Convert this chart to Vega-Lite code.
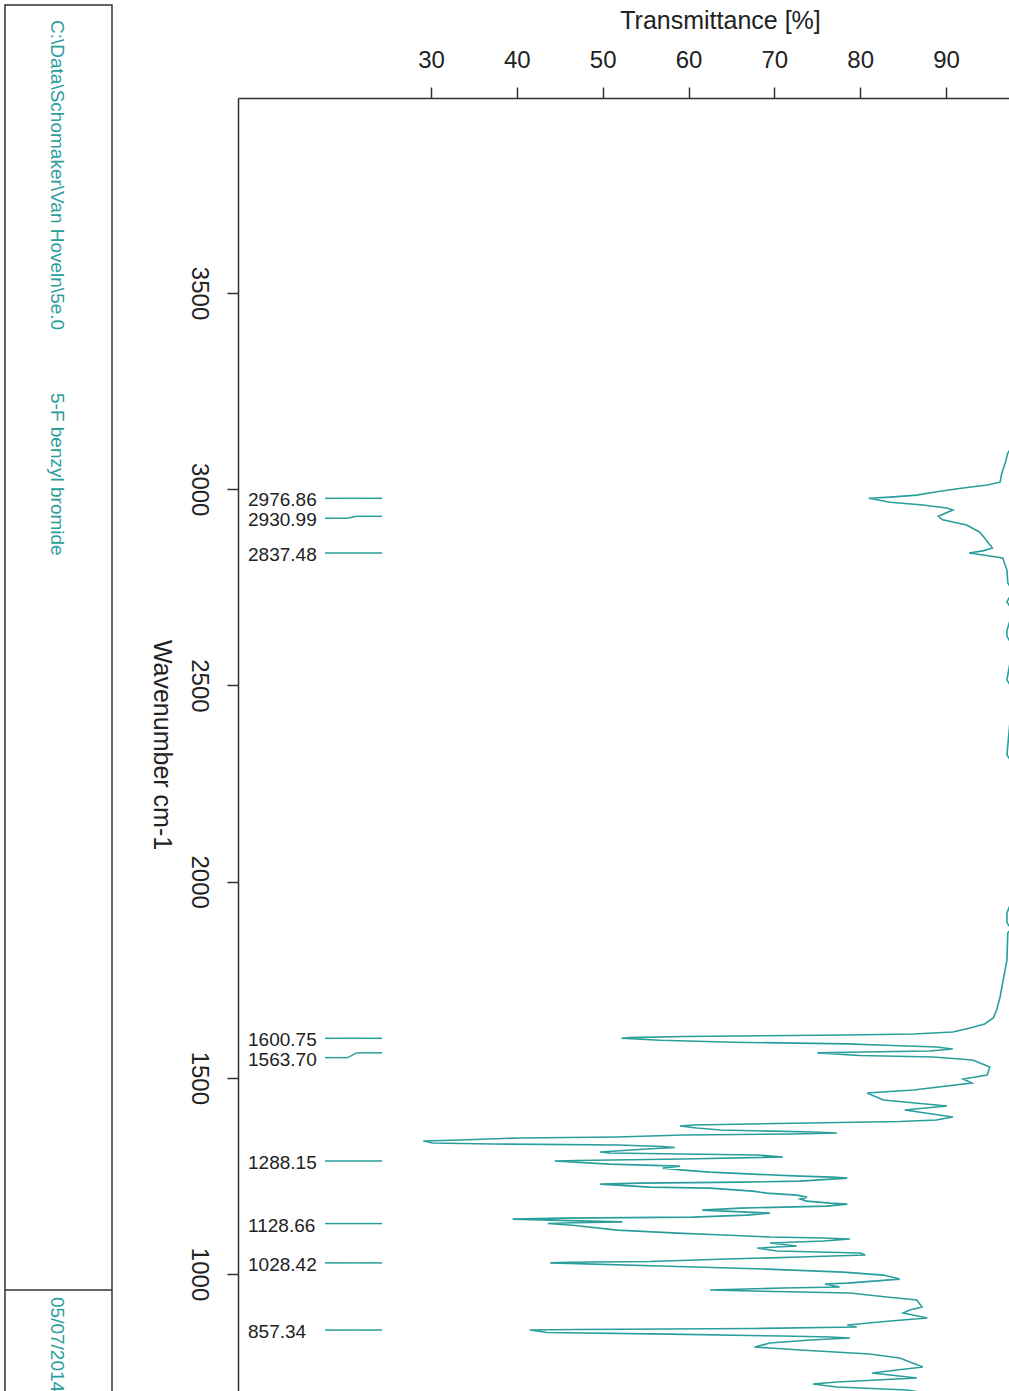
{
  "$schema": "https://vega.github.io/schema/vega-lite/v6.json",
  "width": 771,
  "height": 1293,
  "autosize": {"type": "none"},
  "padding": {"left": 238, "top": 98, "right": 0, "bottom": 0},
  "background": "white",
  "config": {"view": {"stroke": null}, "font": "Liberation Sans", "axis": {"grid": false}},
  "datasets": {
    "spectrum": [
      {"wn": 3997, "T": 99.0}, {"wn": 3800, "T": 99.2}, {"wn": 3500, "T": 99.3}, {"wn": 3300, "T": 99.0}, {"wn": 3180, "T": 98.6}, {"wn": 3120, "T": 98.0},
      {"wn": 3092, "T": 97.2}, {"wn": 3067, "T": 96.9}, {"wn": 3041, "T": 96.5}, {"wn": 3018, "T": 96.3}, {"wn": 3011, "T": 94.8}, {"wn": 3003, "T": 92.0},
      {"wn": 2995, "T": 89.3}, {"wn": 2985, "T": 86.6}, {"wn": 2980, "T": 83.5}, {"wn": 2976.86, "T": 81.0}, {"wn": 2967, "T": 83.5}, {"wn": 2960, "T": 87.3},
      {"wn": 2952, "T": 90.1}, {"wn": 2947, "T": 90.8}, {"wn": 2931, "T": 89.1}, {"wn": 2922, "T": 89.6}, {"wn": 2909, "T": 92.4}, {"wn": 2891, "T": 93.9},
      {"wn": 2876, "T": 94.5}, {"wn": 2850, "T": 95.4}, {"wn": 2843, "T": 94.3}, {"wn": 2837.48, "T": 92.7}, {"wn": 2830, "T": 95.1}, {"wn": 2825, "T": 96.6},
      {"wn": 2794, "T": 97.1}, {"wn": 2761, "T": 97.2}, {"wn": 2740, "T": 97.8}, {"wn": 2713, "T": 97.1}, {"wn": 2690, "T": 97.8}, {"wn": 2640, "T": 97.1},
      {"wn": 2625, "T": 97.1}, {"wn": 2600, "T": 97.8}, {"wn": 2514, "T": 97.1}, {"wn": 2490, "T": 97.8}, {"wn": 2323, "T": 97.1}, {"wn": 2300, "T": 97.8},
      {"wn": 1960, "T": 97.8}, {"wn": 1920, "T": 97.1}, {"wn": 1895, "T": 97.1}, {"wn": 1880, "T": 97.6}, {"wn": 1869, "T": 97.2}, {"wn": 1800, "T": 97.1},
      {"wn": 1742, "T": 96.6}, {"wn": 1706, "T": 96.3}, {"wn": 1673, "T": 95.9}, {"wn": 1652.5, "T": 95.5}, {"wn": 1637.2, "T": 94.5}, {"wn": 1627.0, "T": 92.8},
      {"wn": 1616.8, "T": 90.8}, {"wn": 1611.7, "T": 86.2}, {"wn": 1609.2, "T": 78.5}, {"wn": 1605.3, "T": 59.4}, {"wn": 1602.5, "T": 53.2}, {"wn": 1600.75, "T": 52.2},
      {"wn": 1595.8, "T": 56.7}, {"wn": 1590.7, "T": 65.2}, {"wn": 1586.6, "T": 78.5}, {"wn": 1582.4, "T": 83.8}, {"wn": 1578.6, "T": 88.9}, {"wn": 1573.6, "T": 90.8},
      {"wn": 1568.5, "T": 88.1}, {"wn": 1565.9, "T": 80.3}, {"wn": 1563.7, "T": 75.0}, {"wn": 1557.0, "T": 80.0}, {"wn": 1553.1, "T": 88.5}, {"wn": 1545.5, "T": 93.1},
      {"wn": 1527.6, "T": 95.1}, {"wn": 1507.2, "T": 94.8}, {"wn": 1497.0, "T": 92.0}, {"wn": 1486.8, "T": 93.0}, {"wn": 1469.0, "T": 86.2}, {"wn": 1461.4, "T": 80.8},
      {"wn": 1443.5, "T": 82.7}, {"wn": 1428.2, "T": 90.1}, {"wn": 1418.1, "T": 85.2}, {"wn": 1400.2, "T": 90.8}, {"wn": 1392.6, "T": 88.9}, {"wn": 1388.7, "T": 84.6},
      {"wn": 1386.1, "T": 77.6}, {"wn": 1383.6, "T": 70.3}, {"wn": 1379.9, "T": 60.5}, {"wn": 1377.3, "T": 59.0}, {"wn": 1372.2, "T": 61.0}, {"wn": 1367.1, "T": 63.7},
      {"wn": 1362.1, "T": 74.5}, {"wn": 1359.5, "T": 77.3}, {"wn": 1357.0, "T": 72.2}, {"wn": 1354.4, "T": 59.4}, {"wn": 1349.3, "T": 51.7}, {"wn": 1346.8, "T": 40.4},
      {"wn": 1341.6, "T": 33.4}, {"wn": 1339.1, "T": 29.1}, {"wn": 1334.0, "T": 30.2}, {"wn": 1331.4, "T": 37.2}, {"wn": 1328.9, "T": 51.8}, {"wn": 1325.1, "T": 57.0},
      {"wn": 1322.5, "T": 58.4}, {"wn": 1318.8, "T": 55.2}, {"wn": 1311.1, "T": 49.7}, {"wn": 1308.6, "T": 50.8}, {"wn": 1306.0, "T": 59.4}, {"wn": 1303.5, "T": 68.0},
      {"wn": 1298.4, "T": 71.0}, {"wn": 1293.3, "T": 59.4}, {"wn": 1289.5, "T": 47.0}, {"wn": 1288.15, "T": 44.4}, {"wn": 1280.2, "T": 50.8}, {"wn": 1275.1, "T": 59.0},
      {"wn": 1270.0, "T": 57.0}, {"wn": 1264.9, "T": 59.4}, {"wn": 1259.8, "T": 62.5}, {"wn": 1254.7, "T": 67.5}, {"wn": 1249.6, "T": 73.0}, {"wn": 1247.0, "T": 76.8},
      {"wn": 1244.5, "T": 78.5}, {"wn": 1236.8, "T": 73.0}, {"wn": 1234.3, "T": 66.3}, {"wn": 1231.7, "T": 54.3}, {"wn": 1229.2, "T": 49.7}, {"wn": 1221.6, "T": 55.5},
      {"wn": 1219.0, "T": 62.5}, {"wn": 1211.4, "T": 67.5}, {"wn": 1206.3, "T": 69.1}, {"wn": 1201.2, "T": 72.6}, {"wn": 1196.1, "T": 73.8}, {"wn": 1191.0, "T": 73.0},
      {"wn": 1185.9, "T": 73.8}, {"wn": 1180.8, "T": 76.5}, {"wn": 1178.2, "T": 78.5}, {"wn": 1173.1, "T": 76.1}, {"wn": 1170.6, "T": 71.0}, {"wn": 1168.0, "T": 66.0},
      {"wn": 1162.9, "T": 61.6}, {"wn": 1155.3, "T": 69.5}, {"wn": 1150.2, "T": 66.8}, {"wn": 1145.1, "T": 60.5}, {"wn": 1142.6, "T": 45.4}, {"wn": 1140.0, "T": 39.5},
      {"wn": 1135.5, "T": 47.3}, {"wn": 1133.0, "T": 52.3}, {"wn": 1130.6, "T": 46.5}, {"wn": 1128.66, "T": 43.6}, {"wn": 1124.5, "T": 46.5}, {"wn": 1112.0, "T": 51.7},
      {"wn": 1104.3, "T": 58.7}, {"wn": 1099.5, "T": 64.0}, {"wn": 1094.4, "T": 69.5}, {"wn": 1091.8, "T": 75.7}, {"wn": 1089.3, "T": 78.8}, {"wn": 1084.2, "T": 75.7},
      {"wn": 1079.1, "T": 69.5}, {"wn": 1071.4, "T": 72.6}, {"wn": 1066.3, "T": 68.0}, {"wn": 1058.7, "T": 70.3}, {"wn": 1053.6, "T": 80.0}, {"wn": 1048.5, "T": 80.6},
      {"wn": 1043.4, "T": 73.0}, {"wn": 1038.3, "T": 64.5}, {"wn": 1032.0, "T": 55.5}, {"wn": 1030.0, "T": 46.2}, {"wn": 1028.42, "T": 43.9}, {"wn": 1019.1, "T": 58.7},
      {"wn": 1012.6, "T": 69.1}, {"wn": 1005.0, "T": 78.0}, {"wn": 997.4, "T": 82.7}, {"wn": 987.2, "T": 84.6}, {"wn": 977.0, "T": 78.5}, {"wn": 974.5, "T": 75.9},
      {"wn": 966.9, "T": 77.6}, {"wn": 964.4, "T": 71.0}, {"wn": 959.3, "T": 62.5}, {"wn": 954.2, "T": 73.0}, {"wn": 951.7, "T": 78.8}, {"wn": 941.5, "T": 83.1},
      {"wn": 933.8, "T": 86.6}, {"wn": 915.9, "T": 87.2}, {"wn": 908.3, "T": 85.8}, {"wn": 900.6, "T": 85.0}, {"wn": 887.9, "T": 87.8}, {"wn": 880.3, "T": 83.5},
      {"wn": 870.1, "T": 78.5}, {"wn": 865.0, "T": 79.6}, {"wn": 861.2, "T": 67.5}, {"wn": 858.6, "T": 47.0}, {"wn": 857.34, "T": 41.5}, {"wn": 851.0, "T": 43.5},
      {"wn": 847.0, "T": 57.8}, {"wn": 842.0, "T": 71.0}, {"wn": 839.5, "T": 76.5}, {"wn": 837.0, "T": 78.8}, {"wn": 831.9, "T": 74.2}, {"wn": 824.2, "T": 69.5},
      {"wn": 814.0, "T": 67.7}, {"wn": 806.4, "T": 73.0}, {"wn": 796.2, "T": 81.1}, {"wn": 786.0, "T": 84.6}, {"wn": 763.1, "T": 87.3}, {"wn": 755.5, "T": 84.3},
      {"wn": 747.8, "T": 81.4}, {"wn": 735.1, "T": 86.6}, {"wn": 724.9, "T": 77.3}, {"wn": 719.8, "T": 74.5}, {"wn": 712.2, "T": 77.3}, {"wn": 704.5, "T": 85.5},
      {"wn": 695, "T": 88.0}
    ],
    "peaks": [
      {"label": "2976.86", "wn": 2976.86, "wl": 2976.86},
      {"label": "2930.99", "wn": 2930.99, "wl": 2926.0},
      {"label": "2837.48", "wn": 2837.48, "wl": 2837.48},
      {"label": "1600.75", "wn": 1600.75, "wl": 1600.75},
      {"label": "1563.70", "wn": 1563.7, "wl": 1551.5},
      {"label": "1288.15", "wn": 1288.15, "wl": 1288.15},
      {"label": "1128.66", "wn": 1128.66, "wl": 1128.66},
      {"label": "1028.42", "wn": 1028.42, "wl": 1028.42},
      {"label": "857.34", "wn": 857.34, "wl": 857.34}
    ]
  },
  "layer": [
    {
      "data": {"name": "spectrum"},
      "mark": {"type": "line", "clip": true, "color": "#2a9e9b", "strokeWidth": 1.6},
      "encoding": {
        "x": {
          "field": "T", "type": "quantitative",
          "scale": {"domain": [7.51, 97.34], "nice": false, "zero": false},
          "axis": {
            "orient": "top", "values": [30, 40, 50, 60, 70, 80, 90], "format": "d",
            "title": "Transmittance [%]", "titleFontSize": 25, "titleFontWeight": "normal", "titleColor": "#222",
            "titleX": 482, "titleY": -78, "titleAlign": "center", "titleBaseline": "middle",
            "labelFontSize": 24, "labelColor": "#222", "labelPadding": 15,
            "tickSize": 11, "tickColor": "#333", "tickWidth": 1.5, "domainColor": "#333", "domainWidth": 1.5
          }
        },
        "y": {
          "field": "wn", "type": "quantitative",
          "scale": {"domain": [702, 3997], "nice": false, "zero": false},
          "axis": {
            "orient": "left", "values": [1000, 1500, 2000, 2500, 3000, 3500], "format": "d",
            "title": "Wavenumber cm-1", "titleAngle": 90, "titleX": -77, "titleY": 646.5, "titleAlign": "center", "titleBaseline": "middle",
            "titleFontSize": 25, "titleFontWeight": "normal", "titleColor": "#222",
            "labelAngle": 90, "labelAlign": "center", "labelBaseline": "top", "labelFontSize": 24, "labelColor": "#222", "labelPadding": 17,
            "tickSize": 11, "tickColor": "#333", "tickWidth": 1.5, "domainColor": "#333", "domainWidth": 1.5
          }
        },
        "order": {"field": "wn", "sort": "descending"}
      }
    },
    {
      "data": {"name": "peaks"},
      "mark": {"type": "rule", "color": "#2a9e9b", "strokeWidth": 1.5},
      "encoding": {"x": {"datum": 17.65}, "x2": {"datum": 20.3}, "y": {"field": "wl", "type": "quantitative"}}
    },
    {
      "data": {"name": "peaks"},
      "mark": {"type": "rule", "color": "#2a9e9b", "strokeWidth": 1.5},
      "encoding": {"x": {"datum": 20.3}, "x2": {"datum": 21.3}, "y": {"field": "wl", "type": "quantitative"}, "y2": {"field": "wn"}}
    },
    {
      "data": {"name": "peaks"},
      "mark": {"type": "rule", "color": "#2a9e9b", "strokeWidth": 1.5},
      "encoding": {"x": {"datum": 21.3}, "x2": {"datum": 24.29}, "y": {"field": "wn", "type": "quantitative"}}
    },
    {
      "data": {"name": "peaks"},
      "mark": {"type": "text", "align": "left", "baseline": "middle", "dy": 2, "fontSize": 19, "color": "#222"},
      "encoding": {"x": {"datum": 8.68}, "y": {"field": "wl", "type": "quantitative"}, "text": {"field": "label"}}
    },
    {
      "data": {"values": [{}]},
      "mark": {"type": "rect", "filled": false, "color": "#333", "strokeWidth": 1.5},
      "encoding": {"x": {"datum": -19.64}, "x2": {"datum": -7.17}, "y": {"datum": 4234}, "y2": {"datum": 678.9}}
    },
    {
      "data": {"values": [{}]},
      "mark": {"type": "rule", "color": "#333", "strokeWidth": 1.5},
      "encoding": {"x": {"datum": -19.64}, "x2": {"datum": -7.17}, "y": {"datum": 959.3}}
    },
    {
      "data": {"values": [{}]},
      "mark": {"type": "text", "angle": 90, "align": "left", "baseline": "middle", "fontSize": 19, "color": "#2a9e9b"},
      "encoding": {"x": {"datum": -13.58}, "y": {"datum": 4195.8}, "text": {"value": "C:\\Data\\Schomaker\\Van Hoveln\\5e.0"}}
    },
    {
      "data": {"values": [{}]},
      "mark": {"type": "text", "angle": 90, "align": "left", "baseline": "middle", "fontSize": 19, "color": "#2a9e9b"},
      "encoding": {"x": {"datum": -13.58}, "y": {"datum": 3245.2}, "text": {"value": "5-F benzyl bromide"}}
    },
    {
      "data": {"values": [{}]},
      "mark": {"type": "text", "angle": 90, "align": "left", "baseline": "middle", "fontSize": 19, "color": "#2a9e9b"},
      "encoding": {"x": {"datum": -13.58}, "y": {"datum": 941.5}, "text": {"value": "05/07/2014"}}
    }
  ]
}
